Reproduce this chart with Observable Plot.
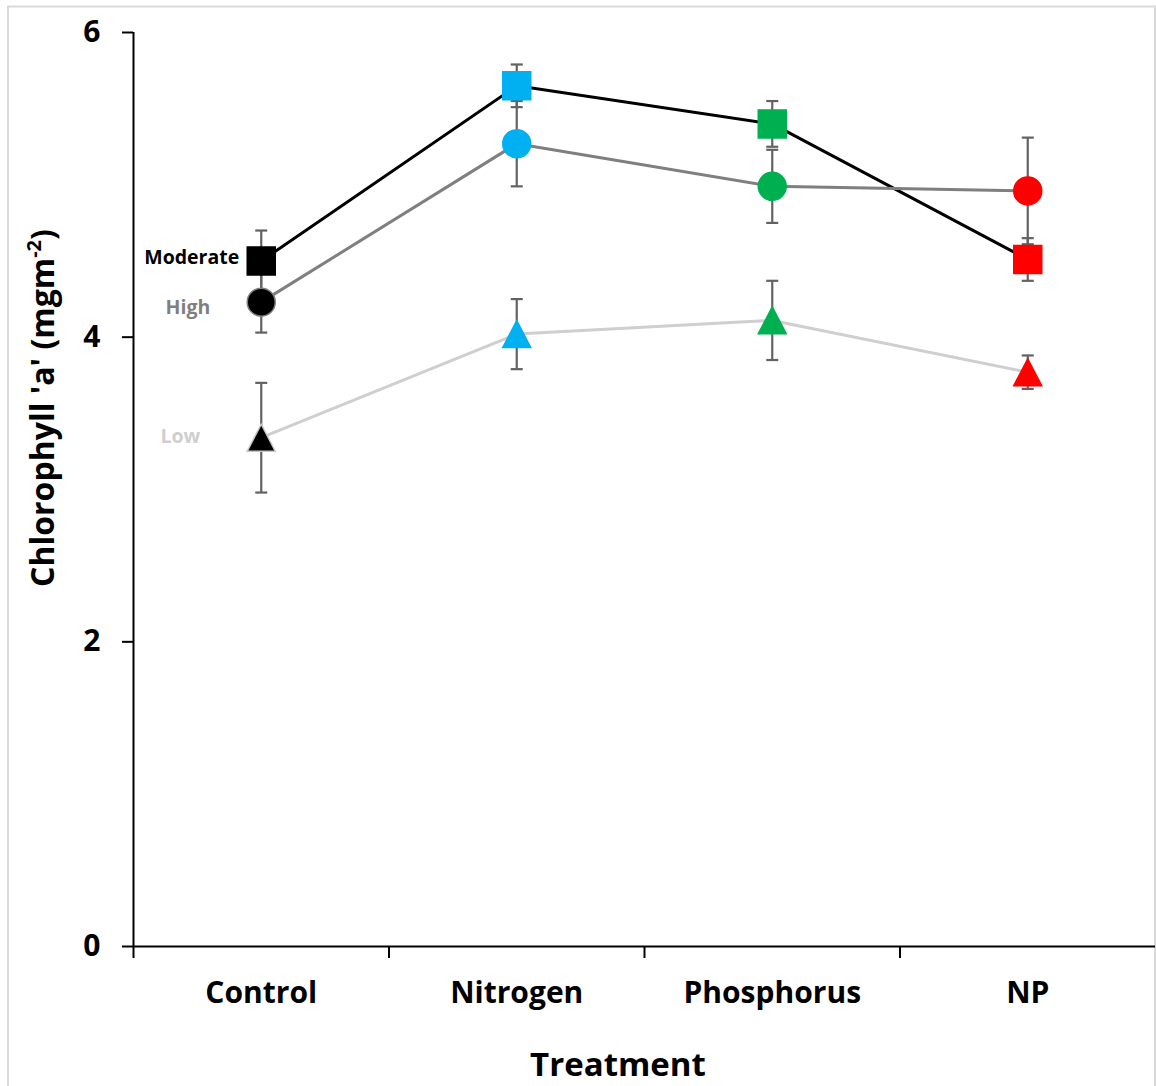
<!DOCTYPE html>
<html>
<head>
<meta charset="utf-8">
<script src="https://cdn.jsdelivr.net/npm/d3@7"></script>
<script src="https://cdn.jsdelivr.net/npm/@observablehq/plot@0.6"></script>
<style>
  body { margin: 0; background: #fff; }
</style>
</head>
<body>
<div id="chart"></div>
<script>
// Treatments along the x axis and the colour used for each treatment's markers
const treatments = ["Control", "Nitrogen", "Phosphorus", "NP"];
const treatmentColors = ["#000000", "#00B0F0", "#00B050", "#FF0000"];

// Series (intensity level), mean chlorophyll a and error per treatment
const seriesNames = ["Moderate", "High", "Low"];
const moderateMean = [4.50, 5.65, 5.40, 4.51];
const moderateErr  = [0.20, 0.14, 0.15, 0.14];
const highMean     = [4.23, 5.27, 4.99, 4.96];
const highErr      = [0.20, 0.28, 0.24, 0.35];
const lowMean      = [3.34, 4.02, 4.11, 3.77];
const lowErr       = [0.36, 0.23, 0.26, 0.11];

const yTicks = [0, 2, 4, 6];
const yTitle = "Chlorophyll 'a' (mgm";
const yTitleSup = "-2";
const yTitleEnd = ")";
const xTitle = "Treatment";

const meanBySeries = {Moderate: moderateMean, High: highMean, Low: lowMean};
const errBySeries = {Moderate: moderateErr, High: highErr, Low: lowErr};

// Long-format table: one row per series × treatment, positioned at band centres
const rows = seriesNames.flatMap(s => treatments.map((t, i) => ({
  series: s,
  treatment: t,
  pos: i + 0.5,
  mean: meanBySeries[s][i],
  err: errBySeries[s][i],
  color: treatmentColors[i]
})));

// Error-bar end points (top and bottom caps)
const caps = rows.flatMap(d => [
  {pos: d.pos, y: d.mean + d.err},
  {pos: d.pos, y: d.mean - d.err}
]);

// Horizontal cap for the error bars
const capSymbol = {
  draw(ctx, size) {
    const h = Math.sqrt(size / Math.PI);
    ctx.moveTo(-h, 0);
    ctx.lineTo(h, 0);
  }
};

// Triangle centred on its bounding box
const triangleSymbol = {
  draw(ctx, size) {
    const s = Math.sqrt(size);
    ctx.moveTo(0, -s * 0.48);
    ctx.lineTo(s * 0.5, s * 0.48);
    ctx.lineTo(-s * 0.5, s * 0.48);
    ctx.closePath();
  }
};

const seriesStyle = {
  Moderate: {symbol: "square", r: 15.8, line: "#000000", outline: "#000000", label: "#000000", dx: -22, dy: -3},
  High:     {symbol: "circle", r: 14,   line: "#7F7F7F", outline: "#7F7F7F", label: "#7F7F7F", dx: -51, dy: 6},
  Low:      {symbol: triangleSymbol, r: 15.8, line: "#D0CECE", outline: "#C8C6C6", label: "#D0CECE", dx: -61, dy: -1}
};

const errColor = "#626262";
const font = "'Open Sans', Lato, sans-serif";

const marks = [];

// Connecting lines
for (const s of seriesNames) {
  marks.push(Plot.line(rows.filter(d => d.series === s), {
    x: "pos", y: "mean", stroke: seriesStyle[s].line, strokeWidth: 3
  }));
}

// Error bars
marks.push(Plot.ruleX(rows, {
  x: "pos", y1: d => d.mean - d.err, y2: d => d.mean + d.err,
  stroke: errColor, strokeWidth: 2.2
}));
marks.push(Plot.dot(caps, {
  x: "pos", y: "y", symbol: capSymbol, r: 6, fill: "none",
  stroke: errColor, strokeWidth: 2.2
}));

// Markers, coloured by treatment
for (const s of seriesNames) {
  const st = seriesStyle[s];
  marks.push(Plot.dot(rows.filter(d => d.series === s), {
    x: "pos", y: "mean", symbol: st.symbol, r: st.r,
    fill: "color",
    stroke: d => d.treatment === "Control" ? st.outline : d.color,
    strokeWidth: 1.5
  }));
}

// Series labels beside the Control markers
for (const s of seriesNames) {
  const st = seriesStyle[s];
  marks.push(Plot.text(rows.filter(d => d.series === s && d.treatment === "Control"), {
    x: "pos", y: "mean", text: "series", textAnchor: "end",
    dx: st.dx, dy: st.dy, fill: st.label, fontSize: 19.5, fontWeight: "bold"
  }));
}

// Axes
marks.push(Plot.ruleX([0], {y1: 0, y2: 6, stroke: "#000", strokeWidth: 2}));
marks.push(Plot.ruleY([0], {x1: 0, x2: 4, stroke: "#000", strokeWidth: 2}));
marks.push(Plot.axisY({
  ticks: yTicks, tickSize: 11, tickPadding: 22, strokeWidth: 2,
  tickFormat: d3.format("d"),
  fontSize: 30, fontWeight: "bold", label: null
}));
marks.push(Plot.axisX({
  ticks: treatments.map((t, i) => i), tickSize: 12, strokeWidth: 2,
  tickFormat: () => "", label: null
}));
marks.push(Plot.axisX({
  ticks: treatments.map((t, i) => i + 0.5), tickSize: 0, tickPadding: 35,
  tickFormat: d => treatments[Math.floor(d)],
  fontSize: 30, fontWeight: "bold", label: null
}));

const chart = Plot.plot({
  width: 1156,
  height: 1086,
  marginLeft: 133,
  marginRight: 1,
  marginTop: 32,
  marginBottom: 140,
  x: {type: "linear", domain: [0, treatments.length]},
  y: {domain: [0, 6]},
  color: {type: "identity"},
  style: {fontFamily: font, background: "#fff", color: "#000"},
  marks
});

const svg = d3.select(chart);

// Outer chart border
svg.insert("rect", ":first-child")
  .attr("x", 8).attr("y", 6.5)
  .attr("width", 1147).attr("height", 1100)
  .attr("fill", "#fff")
  .attr("stroke", "#D9D9D9").attr("stroke-width", 2);

// Axis titles
const yt = svg.append("text")
  .attr("transform", "translate(54,408) rotate(-90)")
  .attr("text-anchor", "middle")
  .attr("font-size", 32).attr("font-weight", "bold").attr("fill", "#000");
yt.append("tspan").text(yTitle);
yt.append("tspan").attr("font-size", 20).attr("dy", -13).text(yTitleSup);
yt.append("tspan").attr("dy", 13).text(yTitleEnd);

svg.append("text")
  .attr("x", 618).attr("y", 1076)
  .attr("text-anchor", "middle")
  .attr("font-size", 33).attr("font-weight", "bold").attr("fill", "#000")
  .text(xTitle);

document.getElementById("chart").append(chart);
</script>
</body>
</html>
